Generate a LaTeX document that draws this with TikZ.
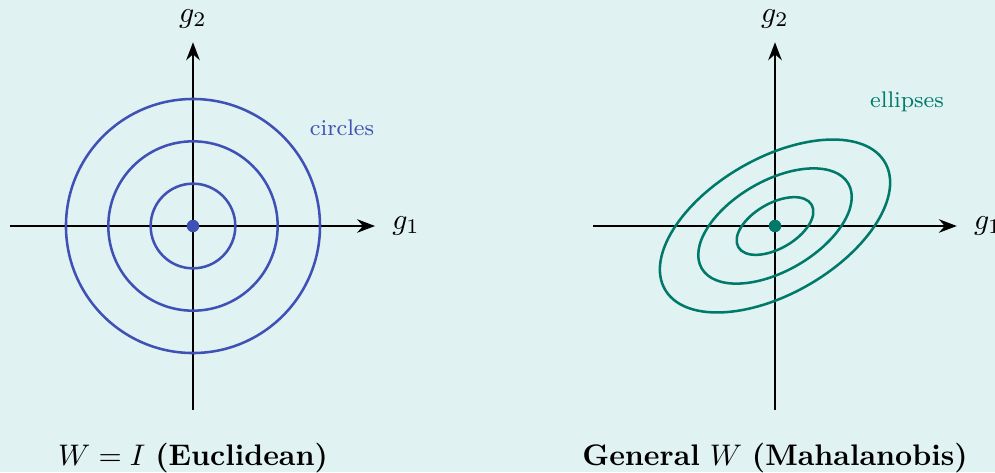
\documentclass[tikz,border=0pt]{standalone}
\usetikzlibrary{arrows.meta}
\definecolor{bgc}{HTML}{E0F2F1}
\definecolor{circc}{HTML}{3F51B5}
\definecolor{ellc}{HTML}{00796B}
\begin{document}
\begin{tikzpicture}[
  axis/.style={line width=0.9pt, -{Stealth[length=6pt,width=4.5pt]}},
  contour/.style={line width=0.85pt},
  small label/.style={font=\fontsize{7.6}{9}\selectfont},
  caption/.style={font=\normalsize}
]
\useasboundingbox[fill=bgc] (-2.279,-2.905) rectangle (9.471,2.669);
% left panel
\coordinate (L) at (0,0);
\coordinate (Lxl) at (-2.16,0);
\coordinate (Lxr) at (2.15,0);
\coordinate (Lyb) at (0,-2.17);
\coordinate (Lyt) at (0,2.17);
\draw[axis] (Lxl) -- (Lxr) node[right=2pt] (Lg1) {$g_1$};
\draw[axis] (Lyb) -- (Lyt) node[above=1pt] (Lg2) {$g_2$};
\foreach \r in {0.5,1.0,1.5}
  \draw[contour, circc] (L) circle[radius=\r];
\fill[circc] (L) circle[radius=2.1pt];
\node[small label, text=circc] (lcirc) at (1.76,1.157) {circles};
\node[caption] (lcap) at (0,-2.74) {$W = I$ \textbf{(Euclidean)}};
% right panel
\coordinate (R) at (6.873,0);
\coordinate (Rxl) at (4.724,0);
\coordinate (Rxr) at (9.02,0);
\coordinate (Ryb) at (6.873,-2.17);
\coordinate (Ryt) at (6.873,2.17);
\draw[axis] (Rxl) -- (Rxr) node[right=2pt] (Rg1) {$g_1$};
\draw[axis] (Ryb) -- (Ryt) node[above=1pt] (Rg2) {$g_2$};
\foreach \a/\b in {0.5/0.267,1.0/0.533,1.5/0.8}
  \draw[contour, ellc, rotate around={30:(R)}] (R) ellipse[x radius=\a, y radius=\b];
\fill[ellc] (R) circle[radius=2.1pt];
\node[small label, text=ellc] (lell) at (8.432,1.464) {ellipses};
\node[caption] (rcap) at (6.873,-2.74) {\textbf{General} $W$ \textbf{(Mahalanobis)}};
\end{tikzpicture}
\end{document}
